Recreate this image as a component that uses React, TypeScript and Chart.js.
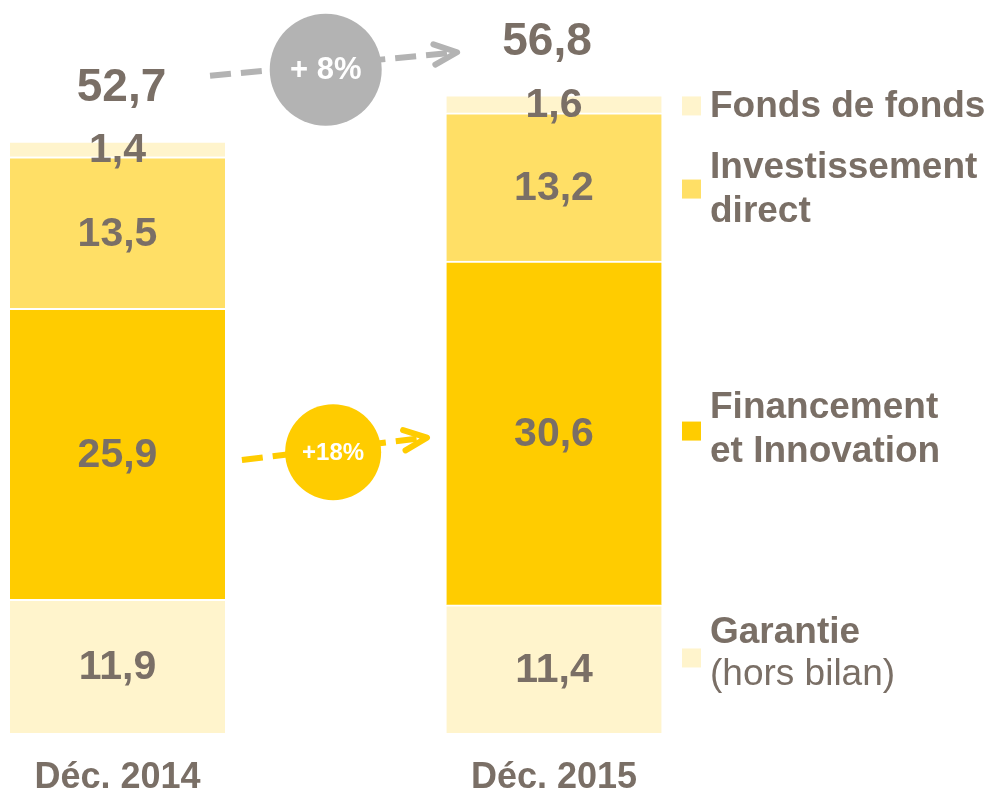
import React, { useEffect, useRef } from 'react';
import { Chart, registerables } from 'chart.js';

Chart.register(...registerables);

// ---------- data ----------
const CATEGORIES = ['Déc. 2014', 'Déc. 2015'];
const GARANTIE = [11.9, 11.4];
const FINANCEMENT = [25.9, 30.6];
const INVESTISSEMENT = [13.5, 13.2];
const FONDS = [1.4, 1.6];

const SERIES_LABELS = ['Garantie', 'Financement et Innovation', 'Investissement direct', 'Fonds de fonds'];
const LEGEND_LINES: { text: string; bold: boolean }[][] = [
  [{ text: 'Garantie', bold: true }, { text: '(hors bilan)', bold: false }],
  [{ text: 'Financement', bold: true }, { text: 'et Innovation', bold: true }],
  [{ text: 'Investissement', bold: true }, { text: 'direct', bold: true }],
  [{ text: 'Fonds de fonds', bold: true }],
];

// growth annotations: position along x between the two bars (0..1), y in data units
const GROWTH_LABELS = ['+ 8%', '+18%'];
const GROWTH_FROM = [{ t: 0.212, v: 58.5 }, { t: 0.285, v: 24.3 }];
const GROWTH_TO = [{ t: 0.778, v: 60.6 }, { t: 0.709, v: 26.3 }];
const GROWTH_CIRCLE = [{ t: 0.477, v: 59.05 }, { t: 0.494, v: 25.0 }];

// ---------- styles ----------
const FONT = '"Liberation Sans", Arial, Helvetica, sans-serif';
const TEXT = '#7A6F66';
const COLORS = ['#FFF4CC', '#FFCC00', '#FFDF66', '#FFF4CC'];
const GROWTH_COLORS = ['#B3B3B3', '#FFCC00'];
const GROWTH_RADIUS = [56, 48];
const GROWTH_FONT = [31, 24];
const LEGEND_DY = [-11, -2, 2, 2];
const LEGEND_TEXT_DY = [-4, -1, 1, 1];
const LEGEND_SPACING = [42, 44, 44, 44];

const fmt = (v: number) => v.toFixed(1).replace('.', ',');

function drawArrow(ctx: CanvasRenderingContext2D, x0: number, y0: number, x1: number, y1: number, color: string) {
  const ang = Math.atan2(y1 - y0, x1 - x0);
  ctx.save();
  ctx.strokeStyle = color;
  ctx.lineWidth = 6;
  ctx.setLineDash([21, 10]);
  ctx.beginPath();
  ctx.moveTo(x0, y0);
  ctx.lineTo(x1 - 8 * Math.cos(ang), y1 - 8 * Math.sin(ang));
  ctx.stroke();
  ctx.setLineDash([]);
  ctx.lineCap = 'round';
  ctx.lineJoin = 'round';
  ctx.beginPath();
  const L = 25;
  const a = 0.42;
  ctx.moveTo(x1 - L * Math.cos(ang - a), y1 - L * Math.sin(ang - a));
  ctx.lineTo(x1, y1);
  ctx.lineTo(x1 - L * Math.cos(ang + a), y1 - L * Math.sin(ang + a));
  ctx.stroke();
  ctx.restore();
}

const overlayPlugin = {
  id: 'overlay',
  afterDatasetsDraw(chart: any) {
    const ctx: CanvasRenderingContext2D = chart.ctx;
    const xs = chart.scales.x;
    const ys = chart.scales.y;
    ctx.save();
    ctx.fillStyle = TEXT;
    ctx.textAlign = 'center';
    ctx.textBaseline = 'middle';
    // segment labels
    ctx.font = `bold 41px ${FONT}`;
    chart.data.datasets.forEach((ds: any, di: number) => {
      const meta = chart.getDatasetMeta(di);
      meta.data.forEach((el: any, i: number) => {
        ctx.fillText(fmt(ds.data[i]), el.x, (el.y + el.base) / 2 + 2);
      });
    });
    // totals
    ctx.font = `bold 46px ${FONT}`;
    CATEGORIES.forEach((_, i) => {
      const total = chart.data.datasets.reduce((s: number, ds: any) => s + ds.data[i], 0);
      const top = ys.getPixelForValue(total);
      ctx.fillText(fmt(total), xs.getPixelForValue(i) + (i === 0 ? 4 : -7), top - 53);
    });
    ctx.restore();

    // growth arrows + circles
    const x0 = xs.getPixelForValue(0);
    const x1 = xs.getPixelForValue(1);
    const px = (t: number) => x0 + t * (x1 - x0);
    GROWTH_LABELS.forEach((lab, i) => {
      drawArrow(ctx, px(GROWTH_FROM[i].t), ys.getPixelForValue(GROWTH_FROM[i].v),
        px(GROWTH_TO[i].t), ys.getPixelForValue(GROWTH_TO[i].v), GROWTH_COLORS[i]);
      const cx = px(GROWTH_CIRCLE[i].t);
      const cy = ys.getPixelForValue(GROWTH_CIRCLE[i].v);
      ctx.save();
      ctx.fillStyle = GROWTH_COLORS[i];
      ctx.beginPath();
      ctx.arc(cx, cy, GROWTH_RADIUS[i], 0, Math.PI * 2);
      ctx.fill();
      ctx.fillStyle = '#FFFFFF';
      ctx.font = `bold ${GROWTH_FONT[i]}px ${FONT}`;
      ctx.textAlign = 'center';
      ctx.textBaseline = 'middle';
      ctx.fillText(lab, cx, cy + 1);
      ctx.restore();
    });

    // legend aligned with the segments of the last bar
    const legendX = x1 + 128;
    ctx.save();
    ctx.textAlign = 'left';
    ctx.textBaseline = 'middle';
    chart.data.datasets.forEach((ds: any, di: number) => {
      const meta = chart.getDatasetMeta(di);
      const el = meta.data[meta.data.length - 1];
      const cy = (el.y + el.base) / 2 + LEGEND_DY[di];
      ctx.fillStyle = ds.backgroundColor;
      ctx.fillRect(legendX, cy - 9.5, 19, 19);
      const lines = LEGEND_LINES[di];
      const sp = LEGEND_SPACING[di];
      lines.forEach((ln, li) => {
        ctx.fillStyle = TEXT;
        ctx.font = `${ln.bold ? 'bold ' : ''}37px ${FONT}`;
        const ty = cy + LEGEND_TEXT_DY[di] + (li - (lines.length - 1) / 2) * sp;
        ctx.fillText(ln.text, legendX + 28, ty);
      });
    });
    ctx.restore();
  },
};

export default function App() {
  const ref = useRef<HTMLCanvasElement | null>(null);
  useEffect(() => {
    document.body.style.margin = '0';
    const values = [GARANTIE, FINANCEMENT, INVESTISSEMENT, FONDS];
    const chart = new Chart(ref.current as HTMLCanvasElement, {
      type: 'bar',
      data: {
        labels: CATEGORIES,
        datasets: values.map((d, i) => ({
          label: SERIES_LABELS[i],
          data: d,
          backgroundColor: COLORS[i],
          borderColor: '#FFFFFF',
          borderWidth: { top: 2, left: 0, right: 0, bottom: 0 },
          borderSkipped: false,
          barThickness: 215,
          clip: false,
        })) as any,
      },
      options: {
        animation: false,
        responsive: true,
        maintainAspectRatio: false,
        layout: { padding: { top: 59, left: 117.5, right: 434, bottom: 0 } },
        plugins: { legend: { display: false }, tooltip: { enabled: false } },
        scales: {
          x: {
            stacked: true,
            offset: false,
            grid: { display: false, drawTicks: false },
            border: { display: false },
            ticks: {
              color: TEXT,
              padding: 23,
              font: { family: FONT, size: 36, weight: 'bold' },
              maxRotation: 0,
              autoSkip: false,
            },
            afterFit: (s: any) => { s.height = 61; },
          },
          y: {
            stacked: true,
            display: false,
            min: 0,
            max: 60,
          },
        },
      } as any,
      plugins: [overlayPlugin],
    });
    return () => chart.destroy();
  }, []);
  return (
    <div style={{ position: 'absolute', left: 0, top: 0, width: 988, height: 794, background: '#FFFFFF' }}>
      <canvas ref={ref} />
    </div>
  );
}
